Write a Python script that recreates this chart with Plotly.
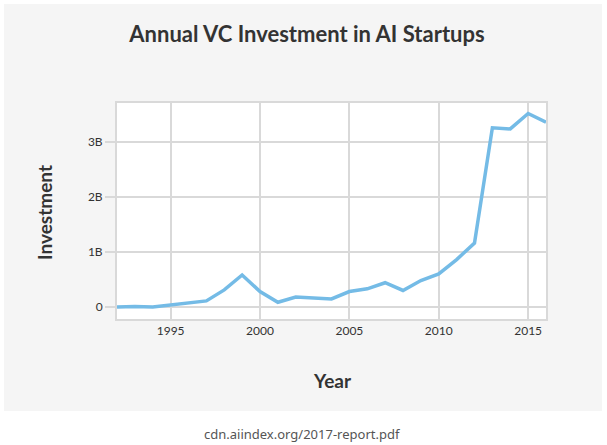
import plotly.graph_objects as go

years = list(range(1992, 2017))
investment_b = [0.0, 0.01, 0.0, 0.04, 0.067, 0.11, 0.31, 0.58, 0.28, 0.085,
                0.18, 0.165, 0.146, 0.28, 0.33, 0.44, 0.30, 0.48, 0.60, 0.86,
                1.16, 3.25, 3.23, 3.51, 3.35]
y_tickvals = [0, 1, 2, 3]
y_ticktext = ["0", "1B", "2B", "3B"]
x_tickvals = [1995, 2000, 2005, 2010, 2015]

W, H = 607, 445
L, R, T, B = 117, 546, 103, 319
pw, ph = R - L, B - T

def px(x):
    return (x - L) / pw

def py(y):
    return (B - y) / ph

grid = "#d9d9d9"
txt = "#333333"
font = "Lato"

fig = go.Figure()
fig.add_trace(go.Scatter(x=years, y=investment_b, mode="lines",
                         line=dict(color="#74bbe6", width=3.5),
                         hoverinfo="skip", showlegend=False))

fig.update_layout(
    width=W, height=H,
    margin=dict(l=L, r=W - R, t=T, b=H - B),
    paper_bgcolor="white",
    plot_bgcolor="white",
    font=dict(family=font, color=txt, size=12),
    title=dict(text="<b>Annual VC Investment in AI Startups</b>",
               x=307 / W, xanchor="center", xref="container",
               y=1 - 34 / H, yanchor="middle", yref="container",
               font=dict(family=font, size=22, color=txt)),
    shapes=[
        dict(type="rect", xref="paper", yref="paper",
             x0=px(4), x1=px(602), y0=py(411), y1=py(4),
             fillcolor="#f5f5f5", line=dict(width=0), layer="below"),
        dict(type="rect", xref="paper", yref="paper",
             x0=0, x1=1, y0=0, y1=1,
             fillcolor="white", line=dict(width=0), layer="below"),
    ],
    annotations=[
        dict(text="<b>Year</b>", xref="paper", yref="paper",
             x=px(332), y=py(380), xanchor="center", yanchor="middle",
             showarrow=False, font=dict(family=font, size=19, color=txt)),
        dict(text="<b>Investment</b>", xref="paper", yref="paper",
             x=px(44), y=py(213), xanchor="center", yanchor="middle",
             textangle=-90, showarrow=False,
             font=dict(family=font, size=19, color=txt)),
        dict(text="cdn.aiindex.org/2017-report.pdf", xref="paper", yref="paper",
             x=px(302), y=py(434), xanchor="center", yanchor="middle",
             showarrow=False, font=dict(family="Noto Sans", size=13, color="#555555")),
    ],
)

fig.update_xaxes(range=[1992, 2016], tickvals=x_tickvals,
                 showgrid=True, gridcolor=grid, gridwidth=2,
                 showline=True, linecolor=grid, linewidth=2, mirror=True,
                 zeroline=False, ticks="", tickfont=dict(size=12, color=txt))
fig.update_yaxes(range=[-0.218, 3.70], tickvals=y_tickvals, ticktext=y_ticktext,
                 showgrid=True, gridcolor=grid, gridwidth=2,
                 showline=True, linecolor=grid, linewidth=2, mirror=True,
                 zeroline=False, ticks="outside", ticklen=10, tickwidth=2,
                 tickcolor=grid, tickfont=dict(size=12, color=txt))

fig.write_html("out.html")
